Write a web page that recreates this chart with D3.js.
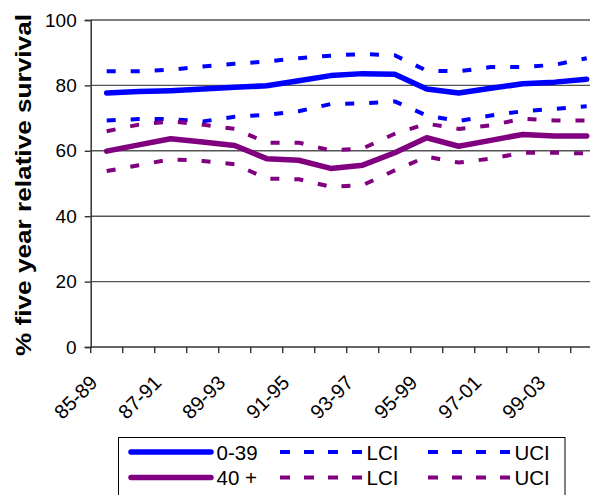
<!DOCTYPE html>
<html>
<head>
<meta charset="utf-8">
<script src="https://cdn.jsdelivr.net/npm/d3@7"></script>
<style>
  body { margin: 0; background: #fff; }
  text { font-family: "Liberation Sans", Arial, sans-serif; fill: #000; }
</style>
</head>
<body>
<div class="chart"></div>
<script>
const periods = ["85-89","86-90","87-91","88-92","89-93","90-94","91-95","92-96",
                 "93-97","94-98","95-99","96-00","97-01","98-02","99-03","00-04"];

const young    = [77.7,78.1,78.4,78.9,79.4,79.9,81.4,83.0,83.6,83.4,78.9,77.7,79.1,80.5,81.0,81.9];
const youngLCI = [69.3,69.7,69.7,69.0,70.4,71.0,72.1,74.3,74.5,75.1,70.8,69.1,70.8,72.1,72.8,73.6];
const youngUCI = [84.3,84.3,84.8,85.8,86.6,87.3,88.3,89.1,89.6,89.2,84.5,84.3,85.6,85.6,86.3,88.3];

const old    = [59.9,61.8,63.7,62.7,61.6,57.6,57.1,54.6,55.6,59.4,64.0,61.4,63.2,65.0,64.5,64.5];
const oldLCI = [53.8,55.6,57.4,56.9,55.9,51.5,51.3,49.0,49.5,54.0,58.2,56.4,57.6,59.4,59.4,59.2];
const oldUCI = [66.0,68.0,69.0,68.0,66.7,62.5,62.5,60.1,60.7,65.2,68.3,66.7,67.8,69.8,69.3,69.3];

const yTicks = [0,20,40,60,80,100];

const BLUE = "#0000ff", PURPLE = "#800080";

const svg = d3.select(".chart")
  .append("svg")
  .attr("width", 590)
  .attr("height", 495);

const x0 = 90.7;
const xScale = d3.scaleBand()
  .domain(periods)
  .range([x0, x0 + 32 * periods.length]);

const yScale = d3.scaleLinear()
  .domain([0, 100])
  .range([347, 20]);

const xc = d => xScale(d) + xScale.bandwidth() / 2;

// gridlines
svg.append("g")
  .selectAll("line")
  .data(yTicks.filter(d => d > 0))
  .enter()
  .append("line")
  .attr("x1", x0)
  .attr("x2", 600)
  .attr("y1", d => yScale(d))
  .attr("y2", d => yScale(d))
  .attr("stroke", "#555")
  .attr("stroke-width", 1.4);

// y axis
const yAxis = svg.append("g")
  .attr("transform", `translate(${x0},0)`)
  .call(d3.axisLeft(yScale).tickValues(yTicks).tickSize(6).tickPadding(8));
yAxis.select(".domain").attr("stroke", "#333").attr("stroke-width", 1.5);
yAxis.selectAll(".tick line").attr("stroke", "#333").attr("stroke-width", 1.4);
yAxis.selectAll(".tick text")
  .style("font-family", "'Liberation Sans', Arial, sans-serif")
  .style("font-size", "19px")
  .attr("fill", "#000");

// x axis, ticks at category boundaries
const xAxis = svg.append("g")
  .attr("transform", `translate(0,${yScale(0)})`);
xAxis.append("line")
  .attr("x1", x0).attr("x2", 600)
  .attr("stroke", "#333").attr("stroke-width", 1.5);
xAxis.selectAll(".xt")
  .data(periods)
  .enter()
  .append("line")
  .attr("x1", d => xScale(d))
  .attr("x2", d => xScale(d))
  .attr("y1", 0)
  .attr("y2", 6)
  .attr("stroke", "#333")
  .attr("stroke-width", 1.4);
xAxis.selectAll(".xl")
  .data(periods.filter((d, i) => i % 2 === 0))
  .enter()
  .append("text")
  .attr("transform", d => `translate(${xc(d) - 8},${37}) rotate(-45)`)
  .attr("text-anchor", "end")
  .style("font-size", "20px")
  .text(d => d);

// y label
svg.append("text")
  .attr("transform", "translate(31,185) rotate(-90)")
  .attr("text-anchor", "middle")
  .style("font-size", "22px")
  .style("font-weight", "bold")
  .attr("textLength", 342)
  .attr("lengthAdjust", "spacingAndGlyphs")
  .text("% five year relative survival");

// series
const series = [
  {vals: youngLCI, color: BLUE, dash: true},
  {vals: youngUCI, color: BLUE, dash: true},
  {vals: oldLCI, color: PURPLE, dash: true},
  {vals: oldUCI, color: PURPLE, dash: true},
  {vals: young, color: BLUE, dash: false},
  {vals: old, color: PURPLE, dash: false}
];

const line = d3.line()
  .x((d, i) => xc(periods[i]))
  .y(d => yScale(d));

svg.selectAll(".series")
  .data(series)
  .enter()
  .append("path")
  .attr("d", d => line(d.vals))
  .attr("fill", "none")
  .attr("stroke", d => d.color)
  .attr("stroke-width", d => d.dash ? 4 : 5.5)
  .attr("stroke-dasharray", d => d.dash ? "9,15" : null)
  .attr("stroke-linecap", d => d.dash ? "butt" : "round")
  .attr("stroke-linejoin", "round");

// legend
const legend = svg.append("g");
legend.append("rect")
  .attr("x", 118.5).attr("y", 437.5)
  .attr("width", 446.5).attr("height", 70)
  .attr("fill", "#fff").attr("stroke", "#000").attr("stroke-width", 1);

const legendRows = [
  {color: BLUE, label: "0-39", y: 452},
  {color: PURPLE, label: "40 +", y: 477.5}
];

legendRows.forEach(r => {
  legend.append("line")
    .attr("x1", 131).attr("x2", 211)
    .attr("y1", r.y).attr("y2", r.y)
    .attr("stroke", r.color).attr("stroke-width", 5.5)
    .attr("stroke-linecap", "round");
  legend.append("text")
    .attr("x", 216.5).attr("y", r.y + 7.5)
    .style("font-size", "20.5px")
    .text(r.label);
  [[280, "LCI"], [428, "UCI"]].forEach(([lx, t]) => {
    legend.append("line")
      .attr("x1", lx).attr("x2", lx + 83)
      .attr("y1", r.y).attr("y2", r.y)
      .attr("stroke", r.color).attr("stroke-width", 4)
      .attr("stroke-dasharray", "10,14");
    legend.append("text")
      .attr("x", lx + 86.5).attr("y", r.y + 7.5)
      .style("font-size", "20.5px")
      .text(t);
  });
});
</script>
</body>
</html>
